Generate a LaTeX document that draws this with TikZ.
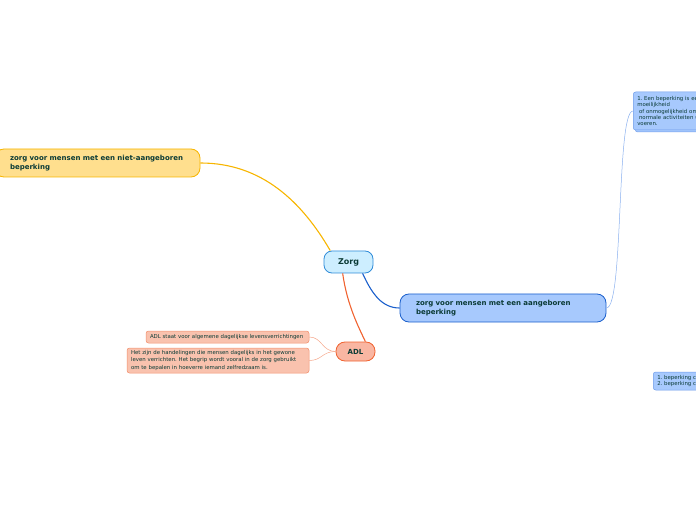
\documentclass[tikz,border=0pt]{standalone}
\usepackage{fontspec}
\setmainfont{DejaVu Sans}
\usetikzlibrary{positioning, shadows}
\frenchspacing

\definecolor{inkgreen}{HTML}{0B3B36}
\definecolor{rootfill}{HTML}{CDEEFF}
\definecolor{rootline}{HTML}{2E8BD8}
\definecolor{yelfill}{HTML}{FFDF8E}
\definecolor{yelline}{HTML}{F7B500}
\definecolor{bluefill}{HTML}{A7C9FD}
\definecolor{blueline}{HTML}{1A5FCC}
\definecolor{paleline}{HTML}{6C9BEA}
\definecolor{redfill}{HTML}{F9B6A2}
\definecolor{redline}{HTML}{F0622F}
\definecolor{salfill}{HTML}{F9C2AE}
\definecolor{salline}{HTML}{F2906D}

\tikzset{
    topic/.style={draw, line width=0.8pt, rounded corners=9pt, text=inkgreen,
        font=\bfseries\fontsize{7}{9}\selectfont, align=left, inner ysep=0pt,
        minimum height=28pt},
    note/.style={draw, line width=0.5pt, rounded corners=2.5pt, text=inkgreen,
        font=\fontsize{5.4}{7.4}\selectfont, align=left, inner xsep=4pt, inner ysep=0pt},
    branch/.style={line width=1.1pt},
    twig/.style={line width=0.5pt}
}

\begin{document}
\begin{tikzpicture}[x=1pt, y=1pt]
    \useasboundingbox (0,0) rectangle (696,520);
    \clip (0,0) rectangle (696,520);
    % Central topic
    \node[topic, fill=rootfill, draw=rootline, font=\bfseries\fontsize{8}{9}\selectfont,
        minimum width=49pt, minimum height=22pt, rounded corners=8pt, inner xsep=0pt]
        (zorg) at (348.5,258) {Zorg};
    % Main topics
    \node[topic, fill=yelfill, draw=yelline, inner xsep=15pt, text width=175pt]
        (niet) at (97.5,357) {zorg voor mensen met een niet-aangeboren\\beperking};
    \node[topic, fill=bluefill, draw=blueline, inner xsep=16pt, text width=174pt]
        (aang) at (503,212) {zorg voor mensen met een aangeboren\\beperking};
    \node[topic, fill=redfill, draw=redline, minimum width=39pt, minimum height=19pt,
        inner xsep=0pt] (adl) at (355.5,168.5) {ADL};
    % ADL notes
    \node[note, fill=salfill, draw=salline, minimum height=12pt, text width=155pt]
        (adlwoord) at (227.5,183) {ADL staat voor algemene dagelijkse levensverrichtingen};
    \node[note, fill=salfill, draw=salline, minimum height=25pt, text width=174pt]
        (adluitleg) at (218,159.5) {Het zijn de handelingen die mensen dagelijks in het gewone\\leven verrichten. Het begrip wordt vooral in de zorg gebruikt\\om te bepalen in hoeverre iemand zelfredzaam is.};
    % Notes under the aangeboren topic (cut off at the right edge)
    \node[note, fill=bluefill, draw=paleline, anchor=west, minimum height=38pt,
        text width=90pt, font=\fontsize{5.4}{6.4}\selectfont,
        copy shadow={shadow xshift=2pt, shadow yshift=-2pt, draw=paleline, fill=bluefill}]
        (beperking) at (633,409) {1. Een beperking is een\\moeilijkheid\\\ of onmogelijkheid om\\\ normale activiteiten uit te\\voeren.};
    \node[note, fill=bluefill, draw=paleline, anchor=west, minimum height=18pt,
        text width=60pt, font=\fontsize{5.4}{6.8}\selectfont]
        (soorten) at (653,139) {1. beperking c\\2. beperking c};
    % Connectors
    \draw[branch, yelline] (niet.east) .. controls (262,357) and (302,318) .. (zorg.148);
    \draw[branch, blueline] (zorg.-39) .. controls (372,226) and (382,212) .. (aang.west);
    \draw[branch, redline] (zorg.-117) .. controls (347,215) and (359,192) .. (adl.45);
    \draw[twig, paleline!80] (aang.east) .. controls (624,212) and (616,409) .. (beperking.west);
    \draw[twig, salline!80] (adl.west) .. controls (322,168.5) and (322,183) .. (adlwoord.east);
    \draw[twig, salline!80] (adl.west) .. controls (322,168.5) and (322,159.5) .. (adluitleg.east);
\end{tikzpicture}
\end{document}
